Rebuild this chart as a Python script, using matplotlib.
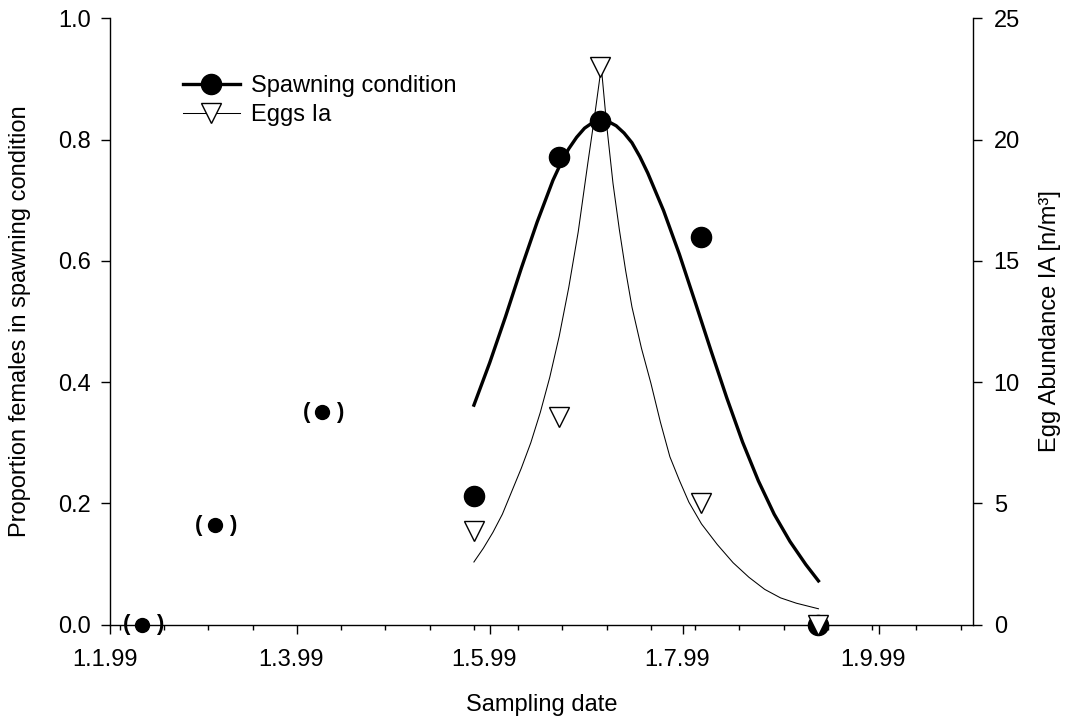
import datetime as dt
import numpy as np
import pandas as pd
import matplotlib
matplotlib.use("Agg")
import matplotlib.pyplot as plt
import matplotlib.dates as mdates
from matplotlib.lines import Line2D
from matplotlib.ticker import FixedLocator, FuncFormatter
from matplotlib.transforms import ScaledTranslation

plt.rcParams['font.family'] = ['Liberation Sans', 'DejaVu Sans']

FS = 17

# ------------------------------------------------------------------
# proportion of females in spawning condition (used in fit)
spawn_dates = ["1999-04-26", "1999-05-23", "1999-06-05", "1999-07-07", "1999-08-13"]
spawn_prop = [0.212, 0.772, 0.831, 0.639, 0.0]

# early samples, shown in brackets
excl_dates = ["1999-01-11", "1999-02-03", "1999-03-09"]
excl_prop = [0.0, 0.164, 0.350]

# egg abundance, stage Ia [n/m3]
egg_dates = ["1999-04-26", "1999-05-23", "1999-06-05", "1999-07-07", "1999-08-13"]
egg_abund = [3.87, 8.56, 23.0, 5.0, 0.0]

# fitted curves, x = days after 1 Jan 1999
spawn_fit_day = [115, 120, 125, 130, 135, 140, 142.5, 145, 147.5, 150, 152.5,
                 155, 157.5, 160, 162.5, 165, 167.5, 170, 175, 180, 185, 190,
                 195, 200, 205, 210, 215, 220, 224]
spawn_fit_val = [0.362, 0.432, 0.508, 0.588, 0.664, 0.733, 0.761, 0.785, 0.804,
                 0.819, 0.828, 0.832, 0.830, 0.823, 0.811, 0.795, 0.772, 0.745,
                 0.683, 0.611, 0.532, 0.452, 0.374, 0.301, 0.237, 0.182, 0.137,
                 0.099, 0.072]

egg_fit_day = [115, 118, 121, 124, 127, 130, 133, 136, 139, 142, 145, 148, 151,
               153, 155.3, 157, 159, 161, 163, 165, 168, 171, 174, 177, 180,
               183, 187, 192, 197, 202, 207, 212, 217, 224]
egg_fit_val = [2.58, 3.15, 3.80, 4.55, 5.50, 6.45, 7.50, 8.75, 10.20, 11.90,
               13.90, 16.20, 19.00, 20.80, 23.0, 20.60, 18.20, 16.30, 14.60,
               13.10, 11.40, 9.95, 8.35, 6.92, 5.95, 5.05, 4.15, 3.30, 2.55,
               1.95, 1.45, 1.10, 0.88, 0.65]

BASE = mdates.date2num(dt.datetime(1999, 1, 1))

fig = plt.figure(figsize=(10.71, 7.22), dpi=100)
ax = fig.add_axes([0.1031, 0.135, 0.8057, 0.8394])
ax2 = ax.twinx()

# spawning condition (left axis)
ax.plot(BASE + np.array(spawn_fit_day), spawn_fit_val, color='k', lw=2.4)
ax.plot(pd.to_datetime(spawn_dates), spawn_prop, ls='none', marker='o', ms=14.5,
        color='k', clip_on=False)
ax.plot(pd.to_datetime(excl_dates), excl_prop, ls='none', marker='o', ms=10,
        color='k', clip_on=False)
for d, v in zip(pd.to_datetime(excl_dates), excl_prop):
    ax.annotate("(", (d, v), xytext=(-11.3, 0), textcoords='offset points',
                ha='center', va='center', fontsize=16, fontweight='bold',
                annotation_clip=False)
    ax.annotate(")", (d, v), xytext=(12.7, 0), textcoords='offset points',
                ha='center', va='center', fontsize=16, fontweight='bold',
                annotation_clip=False)

# eggs (right axis)
ax2.plot(BASE + np.array(egg_fit_day), egg_fit_val, color='k', lw=0.75)
ax2.plot(pd.to_datetime(egg_dates), egg_abund, ls='none', marker='v', ms=14,
         mfc='white', mec='k', mew=1.0, clip_on=False)

# axes
ax.set_xlim(dt.datetime(1999, 1, 1), dt.datetime(1999, 10, 1))
ax.set_ylim(0, 1.0)
ax2.set_ylim(0, 25)

ax.xaxis.set_major_locator(mdates.MonthLocator(bymonth=[1, 3, 5, 7, 9]))
ax.xaxis.set_major_formatter(FuncFormatter(
    lambda x, pos: "{0.day}.{0.month}.{1}".format(mdates.num2date(x), mdates.num2date(x).strftime("%y"))))
minor = pd.date_range("1999-01-04", "1999-10-01", freq="14D")
ax.xaxis.set_minor_locator(FixedLocator(mdates.date2num(minor)))

ax.set_yticks(np.arange(0, 1.01, 0.2))
ax.yaxis.set_major_formatter(FuncFormatter(lambda y, pos: f"{y:.1f}"))
ax2.set_yticks(np.arange(0, 26, 5))

for a in (ax, ax2):
    for s in a.spines.values():
        s.set_linewidth(1.0)
    a.spines['top'].set_visible(False)
ax.spines['right'].set_visible(False)
ax2.spines['left'].set_visible(False)
ax2.spines['bottom'].set_visible(False)

ax.tick_params(axis='x', which='major', direction='out', length=6.5, width=1.0,
               labelsize=FS, pad=11)
ax.tick_params(axis='x', which='minor', direction='out', length=3.6, width=1.0)
ax.tick_params(axis='y', direction='out', length=6.7, width=1.0, labelsize=FS, pad=7.5)
ax2.tick_params(axis='y', direction='out', length=6.7, width=1.0, labelsize=FS, pad=8)

# date labels sit a little left of their ticks in the original
shift = ScaledTranslation(-5.5 / 100, 0, fig.dpi_scale_trans)
for lbl in ax.get_xticklabels():
    lbl.set_transform(lbl.get_transform() + shift)

ax.set_xlabel("Sampling date", fontsize=FS, va='center')
ax.xaxis.set_label_coords(0.5, -0.1326)
ax.set_ylabel("Proportion females in spawning condition", fontsize=FS, va='center')
ax.yaxis.set_label_coords(-0.1048, 0.5)
ax2.set_ylabel("Egg Abundance IA [n/m³]", fontsize=FS, va='center')
ax2.yaxis.set_label_coords(1.0889, 0.5)

handles = [
    Line2D([], [], color='k', lw=2.4, marker='o', ms=14.5),
    Line2D([], [], color='k', lw=0.75, marker='v', ms=14, mfc='white', mec='k'),
]
fig.legend(handles, ["Spawning condition", "Eggs Ia"], loc='upper left',
           bbox_to_anchor=(183 / 1071, 1 - 75 / 722), frameon=False,
           fontsize=FS, borderpad=0, borderaxespad=0, handlelength=2.41,
           handletextpad=0.49, labelspacing=0.31)

fig.savefig("out.png", dpi=100)
